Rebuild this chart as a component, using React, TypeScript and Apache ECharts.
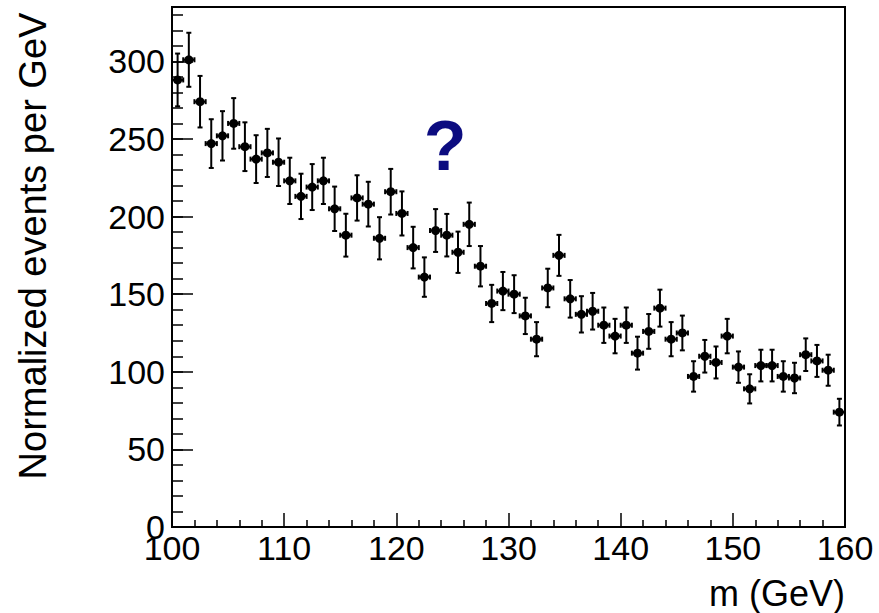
import React, { useEffect, useRef } from "react";
import * as echarts from "echarts";

const binCenters = [
  100.5, 101.5, 102.5, 103.5, 104.5, 105.5, 106.5, 107.5, 108.5, 109.5,
  110.5, 111.5, 112.5, 113.5, 114.5, 115.5, 116.5, 117.5, 118.5, 119.5,
  120.5, 121.5, 122.5, 123.5, 124.5, 125.5, 126.5, 127.5, 128.5, 129.5,
  130.5, 131.5, 132.5, 133.5, 134.5, 135.5, 136.5, 137.5, 138.5, 139.5,
  140.5, 141.5, 142.5, 143.5, 144.5, 145.5, 146.5, 147.5, 148.5, 149.5,
  150.5, 151.5, 152.5, 153.5, 154.5, 155.5, 156.5, 157.5, 158.5, 159.5,
];

const values = [
  288, 301, 274, 247, 252, 260, 245, 237, 241, 235,
  223, 213, 219, 223, 205, 188, 212, 208, 186, 216,
  202, 180, 161, 191, 188, 177, 195, 168, 144, 152,
  150, 136, 121, 154, 175, 147, 137, 139, 130, 123,
  130, 112, 126, 141, 121, 125, 97, 110, 106, 123,
  103, 89, 104, 104, 97, 96, 111, 107, 101, 74,
];

const errors = [
  17.0, 17.4, 16.6, 15.7, 15.9, 16.3, 15.7, 15.4, 15.5, 15.3,
  14.9, 14.6, 14.8, 14.9, 14.3, 13.8, 14.6, 14.4, 13.6, 14.7,
  14.2, 13.4, 12.7, 13.8, 13.7, 13.3, 14.0, 13.0, 12.0, 12.3,
  12.2, 11.7, 11.0, 12.4, 13.2, 12.1, 11.7, 11.8, 11.4, 11.1,
  11.4, 10.6, 11.2, 11.9, 11.0, 11.2, 9.8, 10.5, 10.3, 11.1,
  10.1, 9.4, 10.2, 10.2, 9.8, 9.8, 10.5, 10.3, 10.0, 8.6,
];

const binHalfWidth = 0.5;
const xTitle = "m (GeV)";
const yTitle = "Normalized events per GeV";
const annotation = "?";

const FONT = "Liberation Sans, Arial, Helvetica, sans-serif";

export default function App() {
  const ref = useRef<HTMLDivElement>(null);

  useEffect(() => {
    if (!ref.current) return;
    const chart = echarts.init(ref.current, null, { renderer: "svg" });
    const data = binCenters.map((x, i) => [x, values[i], errors[i]]);
    const lineStyle = { stroke: "#000", lineWidth: 2, fill: null };

    chart.setOption({
      animation: false,
      backgroundColor: "#fff",
      grid: {
        left: 172,
        right: 34,
        top: 7,
        bottom: 86,
        show: true,
        borderColor: "#000",
        borderWidth: 2,
        backgroundColor: "transparent",
      },
      xAxis: {
        type: "value",
        min: 100,
        max: 160,
        interval: 10,
        axisLine: { show: true, lineStyle: { color: "#000", width: 2 } },
        axisTick: { show: true, inside: true, length: 14, lineStyle: { color: "#000", width: 1.5 } },
        minorTick: { show: true, splitNumber: 5, length: 7, lineStyle: { color: "#000", width: 1.5 } },
        axisLabel: { fontFamily: FONT, fontSize: 34, color: "#000", margin: 4 },
        splitLine: { show: false },
      },
      yAxis: [
        {
          type: "value",
          min: 0,
          max: 335,
          interval: 50,
          position: "left",
          axisLine: { show: true, lineStyle: { color: "#000", width: 2 } },
          axisTick: { show: true, inside: true, length: 21, lineStyle: { color: "#000", width: 1.5 } },
          axisLabel: { fontFamily: FONT, fontSize: 34, color: "#000", margin: 7, showMaxLabel: false },
          splitLine: { show: false },
        },
        {
          type: "value",
          min: 0,
          max: 335,
          interval: 10,
          position: "left",
          offset: 0,
          axisLine: { show: false },
          axisTick: { show: true, inside: true, length: 11, lineStyle: { color: "#000", width: 1.5 } },
          axisLabel: { show: false },
          splitLine: { show: false },
        },
      ],
      series: [
        {
          type: "custom",
          xAxisIndex: 0,
          yAxisIndex: 0,
          data,
          encode: { x: 0, y: 1 },
          renderItem: (params: any, api: any) => {
            const x = api.value(0);
            const y = api.value(1);
            const e = api.value(2);
            const c = api.coord([x, y]);
            const top = api.coord([x, y + e]);
            const bot = api.coord([x, y - e]);
            const left = api.coord([x - binHalfWidth, y]);
            const right = api.coord([x + binHalfWidth, y]);
            const cap = 2.5;
            return {
              type: "group",
              children: [
                { type: "line", shape: { x1: c[0], y1: top[1], x2: c[0], y2: bot[1] }, style: lineStyle },
                { type: "line", shape: { x1: c[0] - cap, y1: top[1], x2: c[0] + cap, y2: top[1] }, style: lineStyle },
                { type: "line", shape: { x1: c[0] - cap, y1: bot[1], x2: c[0] + cap, y2: bot[1] }, style: lineStyle },
                { type: "line", shape: { x1: left[0], y1: c[1], x2: right[0], y2: c[1] }, style: lineStyle },
                { type: "line", shape: { x1: left[0], y1: c[1] - cap, x2: left[0], y2: c[1] + cap }, style: lineStyle },
                { type: "line", shape: { x1: right[0], y1: c[1] - cap, x2: right[0], y2: c[1] + cap }, style: lineStyle },
                { type: "circle", shape: { cx: c[0], cy: c[1], r: 4.5 }, style: { fill: "#000", stroke: null } },
              ],
            };
          },
        },
      ],
      graphic: [
        {
          type: "text",
          x: 33,
          y: 246,
          rotation: Math.PI / 2,
          style: {
            text: yTitle,
            fontFamily: FONT,
            fontSize: 38,
            fill: "#000",
            align: "center",
            verticalAlign: "middle",
          },
        },
        {
          type: "text",
          x: 845,
          y: 593,
          style: {
            text: xTitle,
            fontFamily: FONT,
            fontSize: 36,
            fill: "#000",
            align: "right",
            verticalAlign: "middle",
          },
        },
        {
          type: "text",
          x: 445,
          y: 146,
          style: {
            text: annotation,
            fontFamily: FONT,
            fontSize: 70,
            fontWeight: "bold",
            fill: "#0c0c80",
            align: "center",
            verticalAlign: "middle",
          },
        },
      ],
    });

    return () => chart.dispose();
  }, []);

  return (
    <div
      ref={ref}
      style={{ position: "fixed", left: 0, top: 0, width: 879, height: 613 }}
    />
  );
}
